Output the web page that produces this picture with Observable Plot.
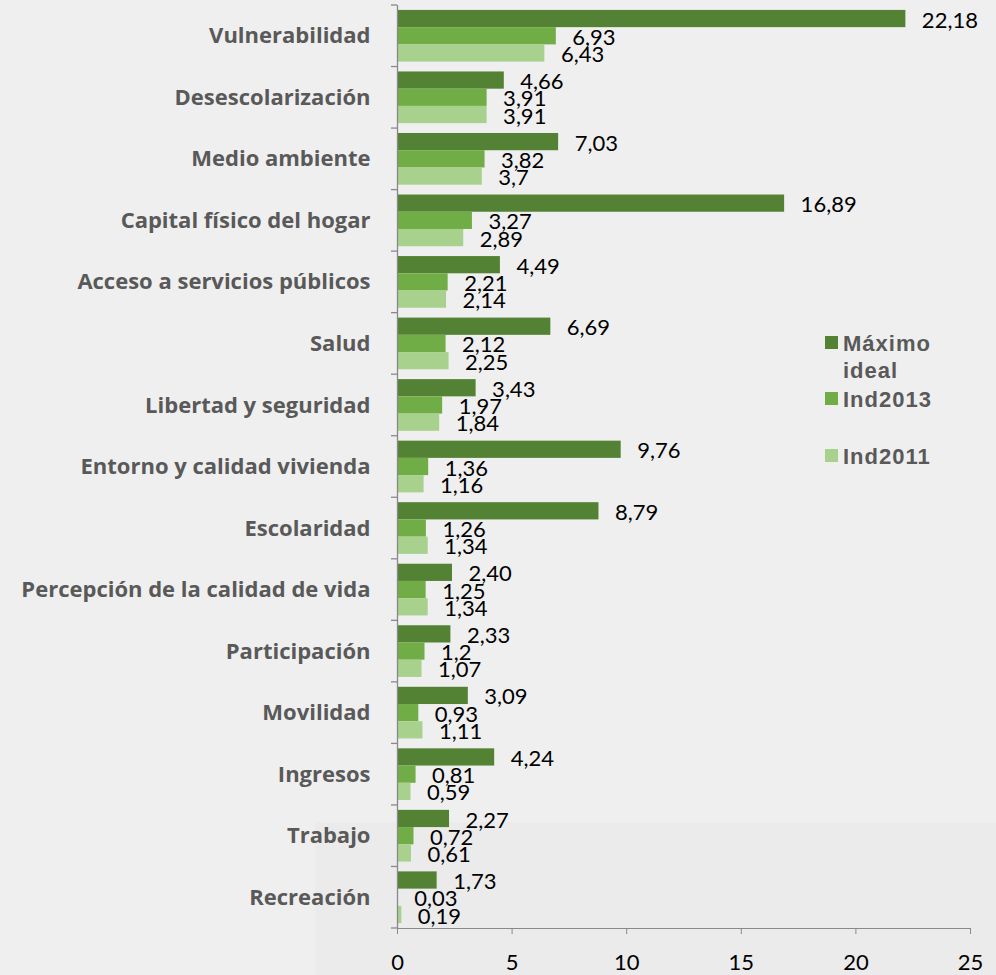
<!DOCTYPE html>
<html>
<head>
<meta charset="utf-8">
<script src="https://cdn.jsdelivr.net/npm/d3@7"></script>
<script src="https://cdn.jsdelivr.net/npm/@observablehq/plot@0.6"></script>
<style>
  html, body { margin: 0; padding: 0; background: #efefef; }
  #wrap { position: relative; width: 996px; height: 975px; background: #efefef; overflow: hidden; }
  #shade { position: absolute; left: 315px; top: 822px; right: 0; bottom: 0; background: #ebebeb; }
  #chart { position: absolute; left: 0; top: 0; line-height: 0; }
  #legend { position: absolute; left: 0; top: 0; font-family: "Liberation Sans", Arial, sans-serif; font-weight: bold; font-size: 22px; line-height: 27px; color: #595959; letter-spacing: 1px; }
  .item { position: absolute; display: flex; align-items: flex-start; }
  .sw { width: 13px; height: 13px; margin-top: 6px; margin-right: 5px; flex: none; }
  .lbl { width: 125px; }
  svg text { font-family: Lato, sans-serif; }
  g[aria-label="y-axis tick label"] text { font-family: "Open Sans", sans-serif; font-weight: bold; fill: #595959; }
  g[aria-label="x-axis tick label"] text { fill: #000; }
</style>
</head>
<body>
<div id="wrap"><div id="shade"></div><div id="chart"></div><div id="legend"></div></div>
<script>
const categories = [
  "Vulnerabilidad", "Desescolarización", "Medio ambiente", "Capital físico del hogar",
  "Acceso a servicios públicos", "Salud", "Libertad y seguridad", "Entorno y calidad vivienda",
  "Escolaridad", "Percepción de la calidad de vida", "Participación", "Movilidad",
  "Ingresos", "Trabajo", "Recreación"
];
const maximoIdeal = ["22,18","4,66","7,03","16,89","4,49","6,69","3,43","9,76","8,79","2,40","2,33","3,09","4,24","2,27","1,73"];
const ind2013     = ["6,93","3,91","3,82","3,27","2,21","2,12","1,97","1,36","1,26","1,25","1,2","0,93","0,81","0,72","0,03"];
const ind2011     = ["6,43","3,91","3,7","2,89","2,14","2,25","1,84","1,16","1,34","1,34","1,07","1,11","0,59","0,61","0,19"];
const seriesNames = ["Máximo ideal", "Ind2013", "Ind2011"];
const seriesColors = ["#548235", "#70ad47", "#a9d18e"];
const xTicks = [0, 5, 10, 15, 20, 25];

const seriesValues = [maximoIdeal, ind2013, ind2011];
const num = s => +s.replace(",", ".");

const W = 996, H = 975, mT = 5, mB = 47, mL = 397, mR = 26;
const padIn = 0.16;
const step = (H - mT - mB) / categories.length;
const bw = step * (1 - padIn);
const h = bw / 3;

const marks = [];
seriesNames.forEach((name, j) => {
  const rows = categories.map((c, i) => ({cat: c, value: num(seriesValues[j][i]), label: seriesValues[j][i]}));
  marks.push(Plot.barX(rows, {
    x: "value", y: "cat", fill: seriesColors[j],
    insetTop: j * h, insetBottom: (2 - j) * h
  }));
  marks.push(Plot.text(rows, {
    x: "value", y: "cat", text: "label", textAnchor: "start",
    dx: 16, dy: -bw / 2 + (j + 0.5) * h + 1.5, fill: "#000", fontSize: 22
  }));
});
marks.push(Plot.ruleX([0], {stroke: "#898989", strokeWidth: 1.3}));

const plot = Plot.plot({
  width: W, height: H,
  marginTop: mT, marginBottom: mB, marginLeft: mL, marginRight: mR,
  style: {background: "transparent", color: "#898989", fontSize: "22px", fontFamily: "Lato, sans-serif", overflow: "visible"},
  x: {domain: [0, 25], ticks: xTicks, tickSize: 6, tickPadding: 20, tickFormat: d => String(d), label: null, line: true},
  y: {domain: categories, paddingInner: padIn, paddingOuter: padIn / 2, round: false, tickSize: 0, tickPadding: 27, label: null},
  marks
});
document.getElementById("chart").appendChild(plot);

// band boundary ticks on the category axis (Excel style)
const ys = plot.scale("y");
const gap = (ys.step - ys.bandwidth) / 2;
const bounds = categories.map(c => ys.apply(c) - gap);
bounds.push(ys.apply(categories[categories.length - 1]) + ys.bandwidth + gap);
const xs = plot.scale("x");
const x0 = xs.apply(0);
d3.select(plot).append("g")
  .selectAll("line").data(bounds).join("line")
  .attr("x1", x0 - 6).attr("x2", x0)
  .attr("y1", d => d).attr("y2", d => d)
  .attr("stroke", "#898989").attr("stroke-width", 1.3);

// legend
const legendTops = [330, 386, 443];
const legendLeft = 825;
const lg = d3.select("#legend");
seriesNames.forEach((name, j) => {
  const it = lg.append("div").attr("class", "item")
    .style("left", legendLeft + "px").style("top", legendTops[j] + "px");
  it.append("div").attr("class", "sw").style("background", seriesColors[j]);
  it.append("div").attr("class", "lbl").text(name);
});
</script>
</body>
</html>
